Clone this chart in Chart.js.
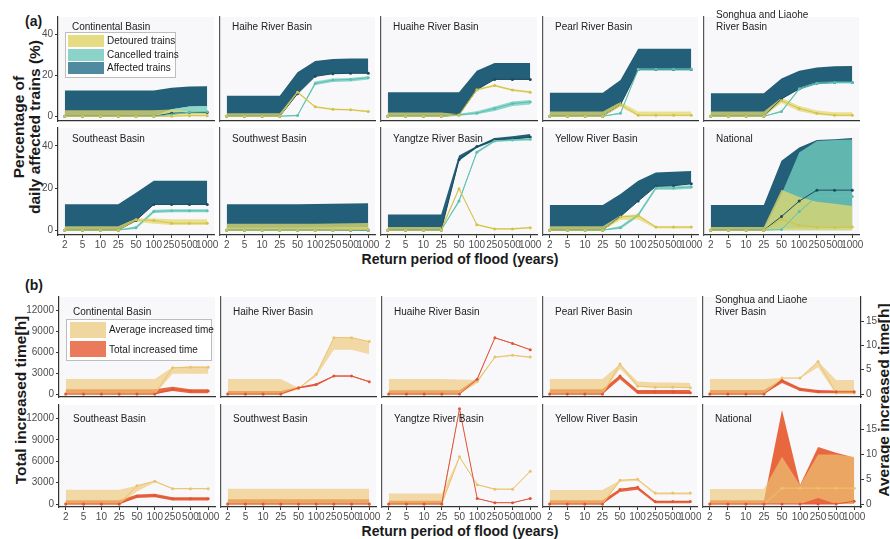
<!DOCTYPE html>
<html>
<head>
<meta charset="utf-8">
<script src="https://cdn.jsdelivr.net/npm/chart.js@4.4.0/dist/chart.umd.min.js"></script>
<style>
  body { margin: 0; background: #fff; font-family: "Liberation Sans", Arial, sans-serif; }
  #fig { position: relative; width: 890px; height: 539px; overflow: hidden; }
  #fig canvas { position: absolute; }
  .t { position: absolute; white-space: pre; color: #1a1a1a; }
  .panel { font-size: 10px; line-height: 12px; color: #222; z-index: 2; }
  .tag { font-weight: bold; font-size: 14px; }
  .xtitle { font-weight: bold; font-size: 14px; transform: translate(-50%, -50%); }
  .ytitle { font-weight: bold; font-size: 15.5px; line-height: 16px; text-align: center;
            transform: translate(-50%, -50%) rotate(-90deg); }
  .legend { position: absolute; background: #fff; border: 1px solid #bdbdbd; z-index: 3; }
  .key { position: absolute; width: 36px; }
  .ltext { position: absolute; font-size: 10px; line-height: 12px; color: #1a1a1a; white-space: nowrap; }
</style>
</head>
<body>
<div id="fig">
  <div class="t tag" style="left:25px;top:13px">(a)</div>
  <div class="t tag" style="left:25px;top:277px">(b)</div>
  <div class="t ytitle" style="left:27px;top:127px">Percentage of
daily affected trains (%)</div>
  <div class="t ytitle" style="left:21px;top:400px">Total increased time[h]</div>
  <div class="t ytitle" style="left:884px;top:400px">Average increased time[h]</div>
  <div class="t xtitle" style="left:460px;top:259px">Return period of flood (years)</div>
  <div class="t xtitle" style="left:460px;top:531px">Return period of flood (years)</div>

  <div class="legend" style="left:65px;top:32px;width:109px;height:44px">
    <div class="key" style="left:2px;top:2px;height:12px;background:#e6dc84"></div>
    <div class="ltext" style="left:41px;top:2px">Detoured trains</div>
    <div class="key" style="left:2px;top:16px;height:12px;background:#8bd3c8"></div>
    <div class="ltext" style="left:41px;top:16px">Cancelled trains</div>
    <div class="key" style="left:2px;top:29px;height:12px;background:#4f8ba0"></div>
    <div class="ltext" style="left:41px;top:29px">Affected trains</div>
  </div>
  <div class="legend" style="left:66px;top:319px;width:144px;height:40px">
    <div class="key" style="left:3px;top:2px;height:16px;background:#f0d7a0"></div>
    <div class="ltext" style="left:42px;top:4px">Average increased time</div>
    <div class="key" style="left:3px;top:21px;height:16px;background:#ea7a5a"></div>
    <div class="ltext" style="left:42px;top:24px">Total increased time</div>
  </div>
</div>
<script>
// return periods (years) and basins
const periods = ['2', '5', '10', '25', '50', '100', '250', '500', '1000'];
const basins = ['Continental Basin', 'Haihe River Basin', 'Huaihe River Basin', 'Pearl River Basin',
  'Songhua and Liaohe\nRiver Basin', 'Southeast Basin', 'Southwest Basin', 'Yangtze River Basin',
  'Yellow River Basin', 'National'];
const pctTicks = [0, 20, 40];
const hourTicks = [0, 3000, 6000, 9000, 12000];
const avgTicks = [0, 5, 10, 15];

// (a) detoured trains (%) - line and ribbon
const detMid = [
  [0, 0, 0, 0, 0, 0, 0, 0.3, 0.3],
  [0, 0, 0, 0, 11.8, 4.6, 3.4, 3.2, 2.3],
  [0, 0, 0, 0, 0.5, 13, 15, 12.8, 11.8],
  [0, 0, 0, 0, 5.7, 0.5, 0.5, 0.5, 0.5],
  [0, 0, 0, 0, 7.7, 3.8, 1.5, 0.5, 0.5],
  [0, 0, 0, 0, 4.9, 4.6, 3.3, 3.3, 3.3],
  [0, 0, 0, 0, 0, 0, 0.1, 0.2, 0.3],
  [0, 0, 0, 0, 19.7, 2.6, 0.6, 0.6, 1.2],
  [0, 0, 0, 0, 6.2, 6.9, 1.5, 1.5, 1.5],
  [0, 0, 0, 0, 5.1, 2.3, 1.4, 1.4, 1.5]
];
const detLo = [
  [0, 0, 0, 0, 0, 0, 0, 0, 0],
  [0, 0, 0, 0, 11.2, 4.2, 3, 2.8, 1.9],
  [0, 0, 0, 0, 0, 12.5, 14.5, 12.3, 11.3],
  [0, 0, 0, 0, 4.5, 0, 0, 0, 0],
  [0, 0, 0, 0, 6.5, 2.5, 0.7, 0, 0],
  [0, 0, 0, 0, 4, 3, 2.5, 2.5, 2.5],
  [0, 0, 0, 0, 0, 0, 0, 0, 0],
  [0, 0, 0, 0, 19.2, 2.2, 0.2, 0.2, 0.8],
  [0, 0, 0, 0, 4.8, 5, 0.8, 0.8, 0.8],
  [0, 0, 0, 0, 0, 0, 0, 0, 0]
];
const detHi = [
  [2.9, 2.9, 2.9, 2.9, 2.9, 2.9, 3.3, 2.4, 2.2],
  [1.5, 1.5, 1.5, 1.5, 12.3, 5, 3.8, 3.6, 2.8],
  [1.8, 1.8, 1.8, 1.8, 1, 13.5, 15.5, 13.3, 12.3],
  [2.3, 2.3, 2.3, 2.3, 7, 2.3, 2.3, 2.3, 2.3],
  [2.3, 2.3, 2.3, 2.3, 9, 5, 2.8, 2, 2],
  [1.8, 1.8, 1.8, 1.8, 5.5, 5.5, 5.2, 5.2, 5.2],
  [3, 3, 3, 3, 3, 3.1, 3.2, 3.3, 3.4],
  [1.5, 1.5, 1.5, 1.5, 20.2, 3, 1, 1, 1.6],
  [1.8, 1.8, 1.8, 1.8, 7, 7.5, 1.8, 1.8, 1.8],
  [1.5, 1.5, 1.5, 1.5, 19.2, 15.8, 13.5, 12.5, 11.5]
];

// (a) cancelled trains (%)
const canMid = [
  [0, 0, 0, 0, 0, 0, 0.8, 2, 2.2],
  [0, 0, 0, 0, 0.4, 16, 17.7, 18, 18.8],
  [0, 0, 0, 0, 0.7, 1.5, 3.8, 6.2, 7],
  [0, 0, 0, 0, 1.5, 23, 23, 23, 23],
  [0, 0, 0, 0, 2.3, 13.4, 16.2, 16.5, 16.5],
  [0, 0, 0, 0, 1.2, 8.9, 9.2, 9.2, 9.2],
  [0, 0, 0, 0, 0, 0, 0, 0, 0],
  [0, 0, 0, 0, 13.8, 37, 42.3, 42.8, 43.1],
  [0, 0, 0, 0, 1.2, 7.2, 20, 20, 20.5],
  [0, 0, 0, 0, 0.3, 8.8, 16, 16, 16]
];
const canLo = [
  [0, 0, 0, 0, 0, 0, 1, 2, 2],
  [0, 0, 0, 0, 0, 15.3, 16.8, 17, 18],
  [0, 0, 0, 0, 0.3, 1, 2.6, 5, 5.8],
  [0, 0, 0, 0, 1, 22.4, 22.4, 22.4, 22.4],
  [0, 0, 0, 0, 1.8, 12.8, 15.7, 16, 16],
  [0, 0, 0, 0, 0.6, 8.2, 8.5, 8.5, 8.5],
  [0, 0, 0, 0, 0, 0, 0, 0, 0],
  [0, 0, 0, 0, 13, 36.4, 41.8, 42.3, 42.6],
  [0, 0, 0, 0, 0.5, 6.4, 19.2, 19.2, 19.7],
  [0, 0, 0, 0, 0, 0, 0, 0, 0]
];
const canHi = [
  [0, 0, 0, 0, 0, 0, 3.5, 4.8, 5],
  [0.3, 0.3, 0.3, 0.3, 0.8, 17, 18.5, 18.7, 19.5],
  [0.3, 0.3, 0.3, 0.3, 1.2, 2.5, 4.8, 7.2, 8],
  [0.2, 0.2, 0.2, 0.2, 1.8, 23.4, 23.4, 23.4, 23.4],
  [0.2, 0.2, 0.2, 0.2, 2.8, 14, 16.7, 17, 17],
  [0.2, 0.2, 0.2, 0.2, 1.8, 9.7, 9.9, 9.9, 9.9],
  [1.2, 1.2, 1.2, 1.2, 1.2, 1.3, 1.4, 1.5, 1.5],
  [0.2, 0.2, 0.2, 0.2, 14.5, 37.6, 42.8, 43.3, 43.6],
  [0.2, 0.2, 0.2, 0.2, 2, 8, 20.8, 20.8, 21.3],
  [0.2, 0.2, 0.2, 0.2, 17, 36.9, 42.3, 42.8, 43]
];

// (a) affected trains (%)
const affMid = [
  [0, 0, 0, 0, 0, 0, 1.5, 1.8, 1.8],
  [0, 0, 0, 0, 11, 19.5, 20.8, 21, 21],
  [0, 0, 0, 0, 0.8, 13, 18, 18, 18],
  [0, 0, 0, 0, 5.7, 22.8, 22.8, 22.8, 22.8],
  [0, 0, 0, 0, 8.5, 13.4, 16.2, 16.5, 16.5],
  [0, 0, 0, 0, 4.6, 12.2, 12.2, 12.2, 12.2],
  [0, 0, 0, 0, 0, 0, 0, 0, 0],
  [0, 0, 0, 0, 33.4, 39.7, 43, 43.4, 44.2],
  [0, 0, 0, 0, 6.5, 13.8, 20.8, 21.1, 22],
  [0, 0, 0, 0, 6.5, 13.8, 19, 19, 19]
];
const affLo = [
  [0, 0, 0, 0, 0, 0, 3.5, 4.8, 5],
  [0, 0, 0, 0, 11, 19.5, 20.8, 21, 21],
  [0, 0, 0, 0, 0.8, 13, 18, 18, 18],
  [0, 0, 0, 0, 5.7, 22.8, 22.8, 22.8, 22.8],
  [0, 0, 0, 0, 8.5, 13.4, 16.2, 16.5, 16.5],
  [0, 0, 0, 0, 4.6, 12.2, 12.2, 12.2, 12.2],
  [0, 0, 0, 0, 0, 0, 0, 0, 0],
  [0, 0, 0, 0, 33, 39, 42.3, 43, 43.8],
  [0, 0, 0, 0, 6.5, 13.8, 20.8, 21.1, 22],
  [0, 0, 0, 0, 1, 1, 1, 1, 1]
];
const affHi = [
  [12.6, 12.6, 12.6, 12.6, 12.6, 12.6, 14, 14.5, 14.7],
  [10, 10, 10, 10, 21.5, 27, 28, 28.2, 28.2],
  [11.8, 11.8, 11.8, 11.8, 11.8, 22.3, 26, 26, 26],
  [11.5, 11.5, 11.5, 11.5, 17.7, 33, 33, 33, 33],
  [11.2, 11.2, 11.2, 11.2, 18.5, 22.3, 23.8, 24.5, 24.6],
  [12.3, 12.3, 12.3, 12.3, 17.7, 23.5, 23.5, 23.5, 23.5],
  [12.3, 12.3, 12.3, 12.3, 12.3, 12.4, 12.5, 12.7, 12.8],
  [7.4, 7.4, 7.4, 7.4, 35.4, 40, 43.8, 44.6, 45.7],
  [12, 12, 12, 12, 17.2, 23.4, 27.4, 27.7, 28.1],
  [12, 12, 12, 12, 33, 39.2, 42.8, 43.2, 43.8]
];

// (b) average increased time [h] (right axis)
const avgMid = [
  [0, 0, 0, 0, 0, 0, 5.4, 5.5, 5.5],
  [0, 0, 0, 0, 1.1, 4.1, 11.6, 11.6, 10.8],
  [0, 0, 0, 0, 0.2, 2.6, 7.6, 8, 7.6],
  [0, 0, 0, 0, 6.2, 1.6, 1.4, 1.4, 1.3],
  [0, 0, 0, 0, 3.3, 3.3, 6.7, 0.2, 0.2],
  [0, 0, 0, 0, 3.7, 4.6, 3.1, 3.1, 3.1],
  [0, 0, 0, 0, 0, 0, 0, 0, 0],
  [0, 0, 0, 0, 9.5, 3.9, 3, 3, 6.6],
  [0, 0, 0, 0, 4.8, 5, 2.2, 2.2, 2.2],
  [0, 0, 0, 0, 3.2, 3.2, 3.2, 3.2, 3.2]
];
const avgLo = [
  [0, 0, 0, 0, 0, 0, 4.2, 4.2, 4.2],
  [0, 0, 0, 0, 1.1, 3.6, 9.1, 9.1, 8.2],
  [0, 0, 0, 0, 0, 2.3, 7.4, 7.8, 7.4],
  [0, 0, 0, 0, 5.2, 1.5, 1.3, 1.3, 1.2],
  [0, 0, 0, 0, 3.2, 3.2, 5.5, 0, 0],
  [0, 0, 0, 0, 2.5, 4.4, 3, 3, 3],
  [0, 0, 0, 0, 0, 0, 0, 0, 0],
  [0, 0, 0, 0, 9.4, 3.8, 2.9, 2.9, 6.5],
  [0, 0, 0, 0, 4.5, 4.7, 1.9, 1.9, 1.9],
  [0, 0, 0, 0, 0, 0, 1.2, 0, 0]
];
const avgHi = [
  [3.1, 3.1, 3.1, 3.1, 3.1, 3.1, 5.5, 5.7, 5.7],
  [3.1, 3.1, 3.1, 3.1, 1.3, 4.2, 11.6, 11.6, 10.8],
  [3.1, 3.1, 3.1, 3.1, 3, 2.9, 7.6, 8, 7.6],
  [3.1, 3.1, 3.1, 3.1, 6.2, 2.6, 2.4, 2.4, 2.3],
  [3.1, 3.1, 3.1, 3.1, 3.3, 3.3, 6.7, 2.9, 2.9],
  [2.9, 2.9, 2.9, 2.9, 3.7, 4.6, 3.2, 3.2, 3.2],
  [3.1, 3.1, 3.1, 3.1, 3.1, 3.1, 3.1, 3.1, 3.1],
  [2.1, 2.1, 2.1, 2.1, 9.6, 4, 3.1, 3.1, 6.7],
  [2.8, 2.8, 2.8, 2.8, 4.8, 5, 2.2, 2.2, 2.2],
  [3.05, 3.05, 3.05, 3.05, 9.5, 3.8, 10, 10, 9.5]
];

// (b) total increased time [h] (left axis)
const totMid = [
  [0, 0, 0, 0, 0, 0, 680, 450, 450],
  [0, 0, 0, 0, 906, 1360, 2580, 2580, 1770],
  [0, 0, 0, 0, 0, 2130, 8060, 7250, 6340],
  [0, 0, 0, 0, 2580, 317, 317, 317, 200],
  [0, 0, 0, 0, 1950, 680, 360, 317, 317],
  [0, 0, 0, 0, 1090, 1180, 725, 725, 725],
  [0, 0, 0, 0, 0, 0, 0, 0, 0],
  [0, 0, 0, 0, 13360, 770, 180, 180, 770],
  [0, 0, 0, 0, 2040, 2350, 360, 360, 360],
  [0, 0, 0, 0, 0, 0, 0, 0, 400]
];
const totLo = [
  [0, 0, 0, 0, 0, 0, 450, 100, 100],
  [0, 0, 0, 0, 800, 1200, 2500, 2500, 1700],
  [0, 0, 0, 0, 0, 2050, 8000, 7200, 6300],
  [0, 0, 0, 0, 2130, 0, 0, 0, 0],
  [0, 0, 0, 0, 1590, 450, 100, 100, 100],
  [0, 0, 0, 0, 850, 950, 500, 500, 500],
  [0, 0, 0, 0, 0, 0, 0, 0, 0],
  [0, 0, 0, 0, 13300, 740, 150, 150, 740],
  [0, 0, 0, 0, 1700, 2000, 100, 100, 100],
  [0, 0, 0, 0, 0, 0, 0, 0, 0]
];
const totHi = [
  [680, 680, 680, 680, 680, 680, 1040, 700, 700],
  [450, 450, 450, 450, 1000, 1500, 2650, 2650, 1850],
  [540, 540, 540, 540, 540, 2250, 8100, 7300, 6380],
  [680, 680, 680, 680, 2720, 590, 590, 590, 590],
  [590, 590, 590, 590, 2130, 900, 590, 500, 500],
  [540, 540, 540, 540, 1350, 1450, 950, 950, 950],
  [680, 680, 680, 680, 680, 680, 680, 680, 680],
  [450, 450, 450, 450, 13420, 800, 220, 220, 800],
  [540, 540, 540, 540, 2150, 2450, 450, 450, 450],
  [540, 540, 540, 540, 13200, 2680, 8020, 7200, 6530]
];

// panel grid (pixel layout)
const colsA = [58, 218, 379, 541, 702, 863];
const rowsA = [[13, 123], [124, 235]];
const colsB = [59, 219, 380, 541, 701, 861];
const rowsB = [[293, 399], [401, 507]];
const titleTopA = [21, 133];
const titleTopB = [306, 413];

const fig = document.getElementById('fig');
const tickFont = { family: "'Liberation Sans', Arial, sans-serif", size: 10 };
const xy = arr => arr.map((v, i) => ({ x: i, y: v }));

const plotBg = {
  id: 'plotBg',
  beforeDraw(chart) {
    const a = chart.chartArea, ctx = chart.ctx;
    ctx.save();
    ctx.fillStyle = '#f8f7f9';
    ctx.fillRect(a.left, a.top, a.right - a.left, a.bottom - a.top);
    ctx.restore();
  }
};

function ribbon(lo, hi, color, order, axis) {
  return [
    { data: xy(lo), borderColor: 'transparent', borderWidth: 0, pointRadius: 0, fill: false, order, yAxisID: axis },
    { data: xy(hi), borderColor: 'transparent', borderWidth: 0, pointRadius: 0, fill: '-1', backgroundColor: color, order, yAxisID: axis }
  ];
}
function meanLine(d, color, order, axis) {
  return { data: xy(d), borderColor: color, backgroundColor: color, borderWidth: 1, pointRadius: 1.5,
    pointBorderWidth: 0, fill: false, order, yAxisID: axis };
}

function makePanel(idx, cols, rows, titleTops, datasets, yRange, yTicks, y2Range) {
  const c = idx % 5, r = Math.floor(idx / 5);
  const x0 = cols[c], x1 = cols[c + 1], y0 = rows[r][0], y1 = rows[r][1];
  const left = c === 0 ? 0 : x0 - 2;
  const showY2 = !!y2Range && c === 4;
  const right = showY2 ? 890 : x1;
  const bottom = r === 1 ? y1 + 18 : y1 + 2;
  const cv = document.createElement('canvas');
  cv.width = right - left;
  cv.height = bottom - y0;
  cv.style.left = left + 'px';
  cv.style.top = y0 + 'px';
  fig.appendChild(cv);

  const showX = r === 1, showY = c === 0;
  const scales = {
    x: {
      type: 'linear', min: -0.38, max: 8.38,
      afterBuildTicks: s => { s.ticks = periods.map((_, i) => ({ value: i })); },
      afterFit: s => { s.height = bottom - y1; s.paddingLeft = 0; s.paddingRight = 0; },
      ticks: { display: showX, callback: v => periods[v], font: tickFont, color: '#4d4d4d',
        padding: 1, maxRotation: 0, autoSkip: false },
      grid: { display: showX, drawOnChartArea: false, tickLength: 3, color: '#333' },
      border: { color: '#333', width: 1.2 }
    },
    y: {
      position: 'left', min: yRange[0], max: yRange[1],
      afterBuildTicks: s => { s.ticks = yTicks.map(v => ({ value: v })); },
      afterFit: s => { s.width = x0 - left; s.paddingTop = 0; s.paddingBottom = 0; },
      ticks: { display: showY, font: tickFont, color: '#4d4d4d', padding: 2, callback: v => String(v) },
      grid: { display: showY, drawOnChartArea: false, tickLength: 3, color: '#333' },
      border: { color: c === 0 ? '#333' : '#555', width: 1.2 }
    }
  };
  if (y2Range) {
    scales.y2 = {
      position: 'right', display: showY2, min: y2Range[0], max: y2Range[1],
      afterBuildTicks: s => { s.ticks = avgTicks.map(v => ({ value: v })); },
      afterFit: s => { s.width = right - x1; s.paddingTop = 0; s.paddingBottom = 0; },
      ticks: { font: tickFont, color: '#4d4d4d', padding: 2, callback: v => String(v) },
      grid: { drawOnChartArea: false, tickLength: 3, color: '#333' },
      border: { color: '#333', width: 1.2 }
    };
  }

  new Chart(cv, {
    type: 'line',
    data: { datasets },
    options: {
      responsive: false, animation: false, events: [],
      layout: { padding: 0 },
      elements: { line: { tension: 0 } },
      plugins: { legend: { display: false }, tooltip: { enabled: false } },
      scales
    },
    plugins: [plotBg]
  });

  const name = basins[idx];
  const t = document.createElement('div');
  t.className = 't panel';
  t.textContent = name;
  t.style.left = (x0 + 14) + 'px';
  t.style.top = (titleTops[r] - (name.includes('\n') ? 12 : 0)) + 'px';
  fig.appendChild(t);
}

// (a) share of daily affected trains
basins.forEach((_, i) => {
  const ds = [
    ...ribbon(affLo[i], affHi[i], '#235f78', 6, 'y'),
    ...ribbon(canLo[i], canHi[i], 'rgba(112,205,190,0.8)', 5, 'y'),
    ...ribbon(detLo[i], detHi[i], 'rgba(228,218,110,0.75)', 4, 'y'),
    meanLine(affMid[i], '#1c4b5f', 3, 'y'),
    meanLine(canMid[i], '#5cc0b3', 2, 'y'),
    meanLine(detMid[i], '#d3c24c', 1, 'y')
  ];
  makePanel(i, colsA, rowsA, titleTopA, ds, [-2.3, 48.5], pctTicks, null);
});

// (b) increased travel time
basins.forEach((_, i) => {
  const ds = [
    ...ribbon(totLo[i], totHi[i], '#e8673f', 4, 'y'),
    ...ribbon(avgLo[i], avgHi[i], 'rgba(238,200,120,0.65)', 3, 'y2'),
    meanLine(avgMid[i], '#eac46a', 2, 'y2'),
    meanLine(totMid[i], '#e0553a', 1, 'y')
  ];
  makePanel(i, colsB, rowsB, titleTopB, ds, [-420, 13900], hourTicks, [-0.6, 19.95]);
});
</script>
</body>
</html>
